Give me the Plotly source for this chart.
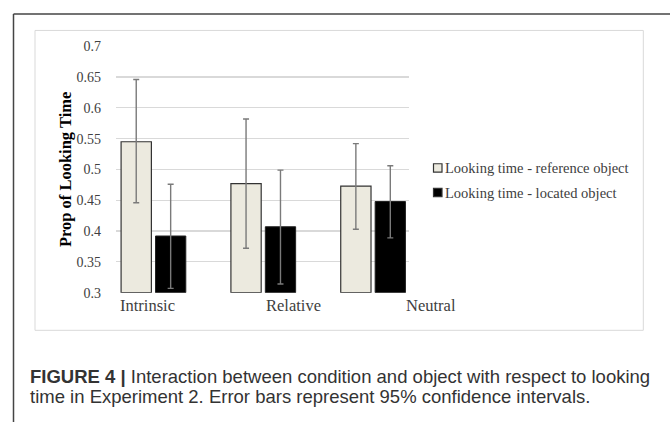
import plotly.graph_objects as go

categories = ["Intrinsic", "Relative", "Neutral"]
ref_vals = [0.545, 0.477, 0.473]
ref_hi = [0.646, 0.582, 0.542]
ref_lo = [0.446, 0.372, 0.403]
loc_vals = [0.392, 0.407, 0.448]
loc_hi = [0.476, 0.499, 0.506]
loc_lo = [0.307, 0.314, 0.389]
y_ticks = [0.3, 0.35, 0.4, 0.45, 0.5, 0.55, 0.6, 0.65, 0.7]
y_tick_text = ["0.3", "0.35", "0.4", "0.45", "0.5", "0.55", "0.6", "0.65", "0.7"]
series_names = ["Looking time - reference object", "Looking time - located object"]
series_colors = ["#ECEADF", "#000000"]

W, H = 670, 430
SERIF = "Liberation Serif"
SANS = "Liberation Sans"
PAD = 2.5  # annotation inner padding compensation

def err(vals, hi, lo):
    return dict(type="data", symmetric=False,
                array=[h - v for h, v in zip(hi, vals)],
                arrayminus=[v - l for v, l in zip(vals, lo)],
                color="#7a7a7a", thickness=1.4, width=3)

xpos = list(range(len(categories)))
fig = go.Figure()
fig.add_bar(x=xpos, y=[v - 0.3 for v in ref_vals], base=0.3, name=series_names[0],
            marker=dict(color=series_colors[0], line=dict(color="#333333", width=1.2)),
            error_y=err(ref_vals, ref_hi, ref_lo))
fig.add_bar(x=xpos, y=[v - 0.3 for v in loc_vals], base=0.3, name=series_names[1],
            marker=dict(color=series_colors[1], line=dict(color="#222222", width=1)),
            error_y=err(loc_vals, loc_hi, loc_lo))

fig.update_layout(
    width=W, height=H, margin=dict(l=0, r=0, t=0, b=0),
    paper_bgcolor="white", plot_bgcolor="white",
    barmode="group", bargap=0.373, bargroupgap=0.12,
    showlegend=False,
    xaxis=dict(domain=[116 / W, 409 / W], range=[-0.341, 2.327],
               showticklabels=False, showgrid=False, zeroline=False,
               showline=False, fixedrange=True),
    yaxis=dict(domain=[1 - 296 / H, 1 - 40.7 / H], range=[0.3, 0.7],
               tickvals=y_ticks, ticktext=y_tick_text,
               tickfont=dict(family=SERIF, size=14, color="#404040"),
               gridcolor="#D9D9D9", gridwidth=1.2, zeroline=False,
               showline=False, ticks="", ticklabelstandoff=14, fixedrange=True),
    font=dict(family=SERIF),
)

# legend (manual, to match square size and placement)
legend_rows = [166.7, 192.3]
for name, col, ry in zip(series_names, series_colors, legend_rows):
    fig.add_shape(type="rect", xref="paper", yref="paper",
                  x0=433.5 / W, x1=442 / W, y0=1 - (ry + 4.3) / H, y1=1 - (ry - 4.3) / H,
                  fillcolor=col, line=dict(color="#333333", width=1.2))
    fig.add_annotation(x=(445 - PAD) / W, y=1 - ry / H, xref="paper", yref="paper",
                       text=name, showarrow=False, xanchor="left", yanchor="middle",
                       font=dict(family=SERIF, size=14.5, color="#404040"))

# x category labels (offset as in the reference)
label_x = [120.7, 266, 406.7]
for c, lx in zip(categories, label_x):
    fig.add_annotation(x=(lx - PAD) / W, y=1 - 309 / H, xref="paper", yref="paper",
                       text=c, showarrow=False, xanchor="left", yanchor="middle",
                       font=dict(family=SERIF, size=16.5, color="#404040"))

# y-axis title
fig.add_annotation(x=65 / W, y=1 - 169 / H, xref="paper", yref="paper",
                   text="<b>Prop of Looking Time</b>", textangle=-90, showarrow=False,
                   xanchor="center", yanchor="middle",
                   font=dict(family=SERIF, size=16.5, color="#000000"))

# chart frame and page lines
fig.add_shape(type="rect", xref="paper", yref="paper",
              x0=35 / W, x1=643.3 / W, y0=1 - 335 / H, y1=1 - 24.3 / H,
              line=dict(color="#D9D9D9", width=1))
fig.add_shape(type="line", xref="paper", yref="paper",
              x0=13.5 / W, x1=13.5 / W, y0=0, y1=1 - 7.3 / H,
              line=dict(color="#444444", width=1.5))
fig.add_shape(type="line", xref="paper", yref="paper",
              x0=13.5 / W, x1=1, y0=1 - 7.3 / H, y1=1 - 7.3 / H,
              line=dict(color="#444444", width=1.5))

# caption
fig.add_annotation(x=(30.7 - PAD) / W, y=1 - 382.7 / H, xref="paper", yref="paper",
                   text="<b>FIGURE 4 |</b> Interaction between condition and object with respect to looking",
                   showarrow=False, xanchor="left", yanchor="middle",
                   font=dict(family=SANS, size=18.5, color="#333333"))
fig.add_annotation(x=(30.7 - PAD) / W, y=1 - 404 / H, xref="paper", yref="paper",
                   text="time in Experiment 2. Error bars represent 95% confidence intervals.",
                   showarrow=False, xanchor="left", yanchor="middle",
                   font=dict(family=SANS, size=18.5, color="#333333"))

fig.write_html("out.html", config={"displayModeBar": False, "staticPlot": True},
               post_script="document.body.style.margin='0';")
